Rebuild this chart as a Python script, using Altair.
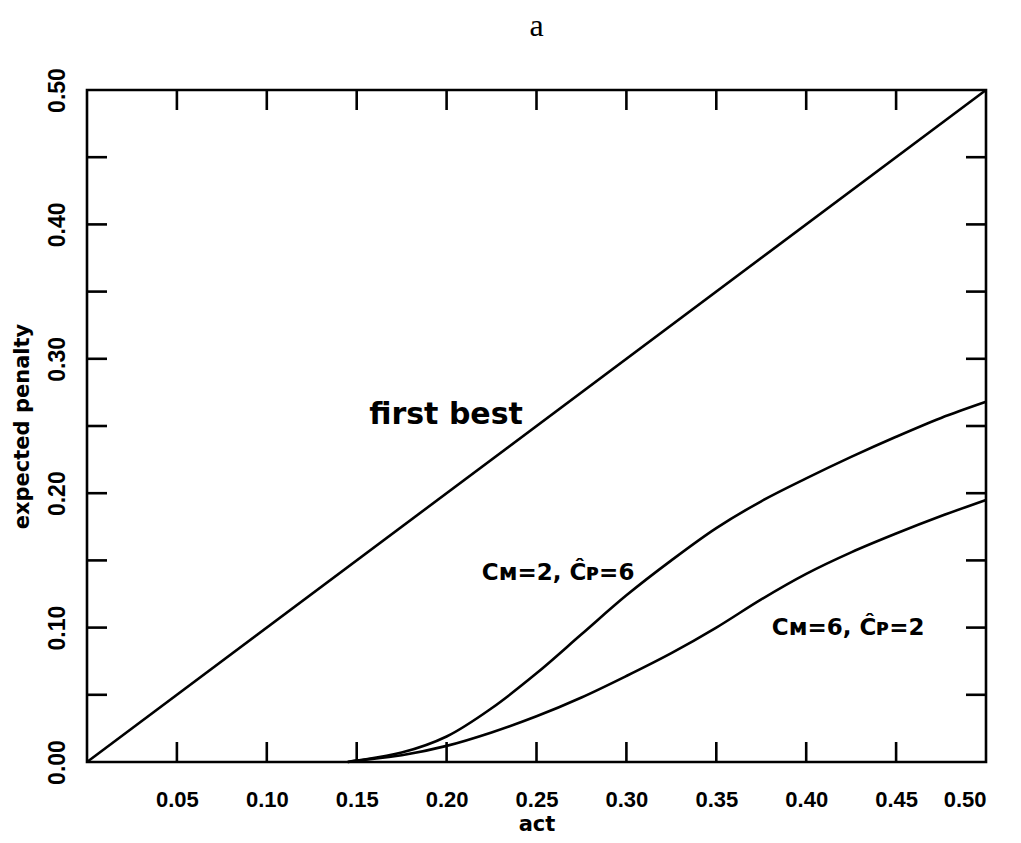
import altair as alt
import pandas as pd

# ---- data ----
act_first = [0.0, 0.5]
pen_first = [0.0, 0.5]

act_curve = [0.145, 0.15, 0.175, 0.20, 0.225, 0.25, 0.275, 0.30, 0.325, 0.35,
             0.375, 0.40, 0.425, 0.45, 0.475, 0.50]
pen_cm2 = [0.0, 0.001, 0.007, 0.019, 0.040, 0.066, 0.095, 0.124, 0.150, 0.174,
           0.194, 0.211, 0.227, 0.242, 0.256, 0.268]
pen_cm6 = [0.0, 0.001, 0.005, 0.012, 0.022, 0.034, 0.048, 0.064, 0.081, 0.100,
           0.121, 0.140, 0.156, 0.170, 0.183, 0.195]

x_tick_labels = [0.05, 0.10, 0.15, 0.20, 0.25, 0.30, 0.35, 0.40, 0.45, 0.50]
y_tick_labels = [0.00, 0.10, 0.20, 0.30, 0.40, 0.50]
minor_ticks = [0.05, 0.10, 0.15, 0.20, 0.25, 0.30, 0.35, 0.40, 0.45]

annot_text = ["first best", "Cᴍ=2, Ĉᴘ=6", "Cᴍ=6, Ĉᴘ=2"]
annot_x = [0.1997, 0.262, 0.4233]
annot_y = [0.258, 0.1405, 0.0997]

panel_title = "a"

# ---- layout ----
W, H = 899, 672
TICK_PX = 20
tx = TICK_PX * 0.5 / W
ty = TICK_PX * 0.5 / H
TITLE_PX = 64  # centre of panel title above the plot top

rows = []
for a, p in zip(act_first, pen_first):
    rows.append({"series": "first", "act": a, "pen": p})
for a, p in zip(act_curve, pen_cm2):
    rows.append({"series": "cm2", "act": a, "pen": p})
for a, p in zip(act_curve, pen_cm6):
    rows.append({"series": "cm6", "act": a, "pen": p})
lines_df = pd.DataFrame(rows)

xs = alt.Scale(domain=[0, 0.5], nice=False, zero=False)
ys = alt.Scale(domain=[0, 0.5], nice=False, zero=False)

x_axis = alt.Axis(values=x_tick_labels, format=".2f", ticks=False, tickSize=0,
                  domain=False, grid=False, labelFont="Liberation Sans",
                  labelFontWeight="bold", labelFontSize=22, labelColor="black",
                  labelPadding=27, title="act", titleFont="DejaVu Sans",
                  titleFontWeight="bold", titleFontSize=21, titleColor="black",
                  titlePadding=3)
y_axis = alt.Axis(values=y_tick_labels, format=".2f", ticks=False, tickSize=0,
                  domain=False, grid=False, labelFont="Liberation Sans",
                  labelFontWeight="bold", labelFontSize=23, labelColor="black",
                  labelAngle=270, labelAlign="center", labelBaseline="bottom",
                  labelPadding=18, title="expected penalty",
                  titleFont="DejaVu Sans", titleFontWeight="bold",
                  titleFontSize=21, titleColor="black", titlePadding=14)

base = alt.Chart(lines_df)
lines = base.mark_line(color="black", strokeWidth=2.6, interpolate="catmull-rom").encode(
    x=alt.X("act:Q", scale=xs, axis=x_axis),
    y=alt.Y("pen:Q", scale=ys, axis=y_axis),
    detail="series:N",
)

tick_df = pd.DataFrame({"v": minor_ticks})
tick_b = alt.Chart(tick_df).mark_rule(color="black", strokeWidth=2.6).encode(
    x=alt.X("v:Q", scale=xs), y=alt.datum(0), y2=alt.datum(ty))
tick_t = alt.Chart(tick_df).mark_rule(color="black", strokeWidth=2.6).encode(
    x=alt.X("v:Q", scale=xs), y=alt.datum(0.5), y2=alt.datum(0.5 - ty))
tick_l = alt.Chart(tick_df).mark_rule(color="black", strokeWidth=2.6).encode(
    y=alt.Y("v:Q", scale=ys), x=alt.datum(0), x2=alt.datum(tx))
tick_r = alt.Chart(tick_df).mark_rule(color="black", strokeWidth=2.6).encode(
    y=alt.Y("v:Q", scale=ys), x=alt.datum(0.5), x2=alt.datum(0.5 - tx))

ann_df = pd.DataFrame({"t": annot_text, "x": annot_x, "y": annot_y,
                       "s": [30, 23, 23]})
ann = alt.Chart(ann_df).mark_text(font="DejaVu Sans", fontWeight="bold",
                                  color="black", align="center",
                                  baseline="middle").encode(
    x=alt.X("x:Q", scale=xs), y=alt.Y("y:Q", scale=ys), text="t:N",
    size=alt.Size("s:Q", scale=None, legend=None))

title_df = pd.DataFrame({"t": [panel_title], "x": [0.25],
                         "y": [0.5 + TITLE_PX * 0.5 / H]})
title_mark = alt.Chart(title_df).mark_text(
    font="Liberation Serif", fontSize=32, color="black", align="center",
    baseline="middle").encode(
    x=alt.X("x:Q", scale=xs), y=alt.Y("y:Q", scale=ys), text="t:N")

chart = alt.layer(lines, tick_b, tick_t, tick_l, tick_r, ann, title_mark).properties(
    width=W, height=H,
    autosize=alt.AutoSizeParams(type="none"),
    padding={"left": 79, "top": 82, "right": 27, "bottom": 73},
).configure(
    background="white",
    view=alt.ViewConfig(stroke="black", strokeWidth=2.6),
)

chart.save("out.html", embed_options={"renderer": "svg", "actions": False})
